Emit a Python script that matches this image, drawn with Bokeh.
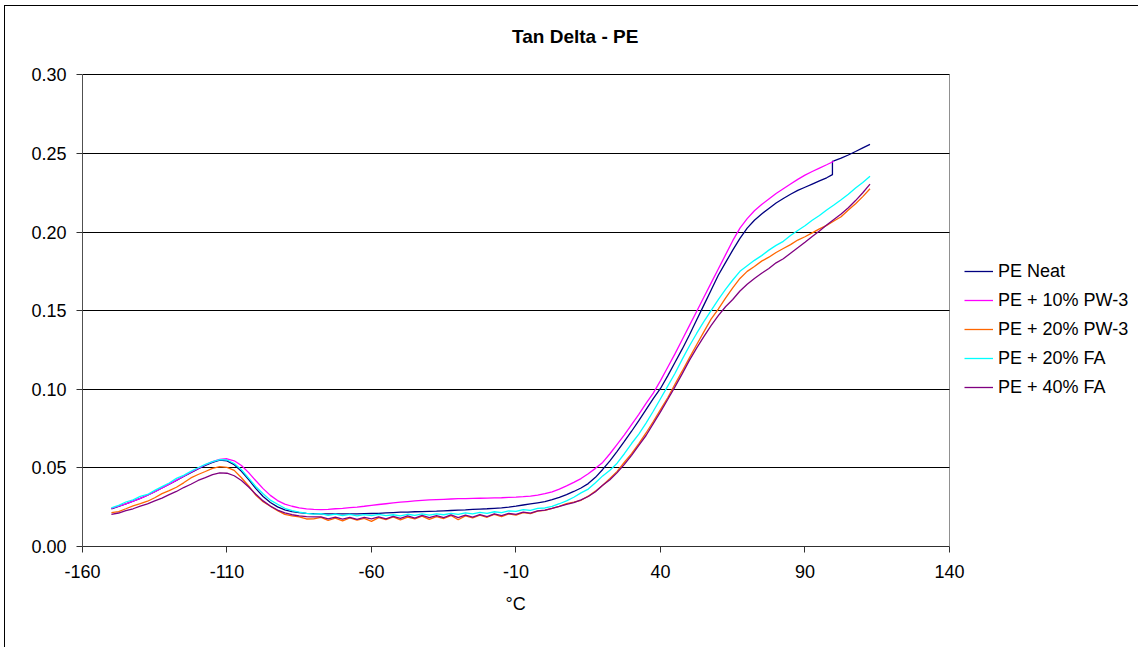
from bokeh.plotting import figure
from bokeh.models import Legend, LegendItem, FixedTicker, PrintfTickFormatter, Range1d, Title, Label
from bokeh.embed import file_html
from bokeh.resources import INLINE

# Temperature sampling grid, degrees C
TEMPS = [-150 + 2.5 * i for i in range(106)]

X_TICKS = [-160, -110, -60, -10, 40, 90, 140]
Y_TICKS = [0.0, 0.05, 0.10, 0.15, 0.20, 0.25, 0.30]
X_MIN, X_MAX = -160, 140
Y_MIN, Y_MAX = 0.0, 0.30

SERIES_NAMES = ["PE Neat", "PE + 10% PW-3", "PE + 20% PW-3", "PE + 20% FA", "PE + 40% FA"]
SERIES_COLORS = ["#000080", "#FF00FF", "#FF6600", "#00FFFF", "#800080"]

# PE Neat: the trace steps up just before 100 C
PE_NEAT_TEMPS = TEMPS[:100] + [99.5, 99.5] + TEMPS[100:]
PE_NEAT = [
    0.0240, 0.0255, 0.0271, 0.0288, 0.0306, 0.0326, 0.0348, 0.0372, 0.0396, 0.0420,
    0.0445, 0.0470, 0.0494, 0.0516, 0.0535, 0.0550, 0.0545, 0.0520, 0.0478, 0.0425,
    0.0368, 0.0318, 0.0280, 0.0252, 0.0233, 0.0222, 0.0215, 0.0211, 0.0209,
    0.0208, 0.0207, 0.0207, 0.0207, 0.0208, 0.0208, 0.0209, 0.0210, 0.0211, 0.0214,
    0.0216, 0.0218, 0.0219, 0.0221, 0.0222, 0.0224, 0.0225, 0.0227, 0.0229, 0.0231,
    0.0233, 0.0236, 0.0238, 0.0240, 0.0243, 0.0246, 0.0251, 0.0257, 0.0264, 0.0271,
    0.0278, 0.0285,
    0.0298, 0.0312, 0.0330, 0.0350, 0.0372, 0.0400, 0.0440, 0.0490, 0.0545, 0.0605,
    0.0668, 0.0733, 0.0800, 0.0870, 0.0940, 0.1005, 0.1085, 0.1170, 0.1255, 0.1345,
    0.1440, 0.1535, 0.1630, 0.1725, 0.1805, 0.1885, 0.1960, 0.2025, 0.2075, 0.2115,
    0.2150, 0.2185, 0.2213, 0.2240, 0.2265, 0.2285, 0.2305, 0.2325, 0.2345,
    0.2365, 0.2450,
    0.2453, 0.2470, 0.2490, 0.2512, 0.2535, 0.2557,
]

PE_PW3_10 = [
    0.0242, 0.0256, 0.0271, 0.0288, 0.0306, 0.0326, 0.0348, 0.0372, 0.0397, 0.0422,
    0.0447, 0.0473, 0.0497, 0.0520, 0.0540, 0.0554, 0.0558, 0.0545, 0.0515, 0.0470,
    0.0418, 0.0368, 0.0325, 0.0292, 0.0270, 0.0256, 0.0245, 0.0239, 0.0236,
    0.0235, 0.0236, 0.0240, 0.0243, 0.0247, 0.0251, 0.0256, 0.0262, 0.0267, 0.0272,
    0.0277, 0.0282, 0.0286, 0.0290, 0.0293, 0.0296, 0.0298, 0.0300, 0.0302, 0.0304,
    0.0305, 0.0306, 0.0307, 0.0308, 0.0309, 0.0310, 0.0312, 0.0314, 0.0317, 0.0321,
    0.0327, 0.0336,
    0.0348, 0.0365, 0.0386, 0.0408, 0.0432, 0.0463, 0.0497, 0.0535, 0.0590, 0.0650,
    0.0710, 0.0775, 0.0840, 0.0910, 0.0975, 0.1055, 0.1140, 0.1225, 0.1315, 0.1405,
    0.1495, 0.1585, 0.1675, 0.1765, 0.1855, 0.1945, 0.2025, 0.2085, 0.2135, 0.2175,
    0.2210, 0.2245, 0.2275, 0.2305, 0.2335, 0.2362, 0.2385, 0.2407, 0.2428, 0.2450,
]

PE_PW3_20 = [
    0.0215, 0.0222, 0.0240, 0.0259, 0.0273, 0.0288, 0.0310, 0.0336, 0.0355, 0.0377,
    0.0405, 0.0436, 0.0458, 0.0477, 0.0497, 0.0508, 0.0503, 0.0484, 0.0437, 0.0385,
    0.0326, 0.0285, 0.0256, 0.0228, 0.0204, 0.0195, 0.0188, 0.0175, 0.0176,
    0.0185, 0.0166, 0.0180, 0.0163, 0.0182, 0.0168, 0.0179, 0.0160, 0.0184, 0.0171,
    0.0188, 0.0169, 0.0187, 0.0175, 0.0193, 0.0172, 0.0190, 0.0178, 0.0197, 0.0170,
    0.0195, 0.0182, 0.0200, 0.0186, 0.0204, 0.0190, 0.0208, 0.0200, 0.0216, 0.0209,
    0.0225, 0.0230,
    0.0243, 0.0255, 0.0272, 0.0282, 0.0294, 0.0320, 0.0352, 0.0390, 0.0432, 0.0478,
    0.0536, 0.0590, 0.0655, 0.0722, 0.0795, 0.0870, 0.0946, 0.1032, 0.1115, 0.1200,
    0.1283, 0.1365, 0.1446, 0.1510, 0.1580, 0.1645, 0.1705, 0.1750, 0.1781, 0.1815,
    0.1840, 0.1870, 0.1895, 0.1920, 0.1949, 0.1970, 0.1995, 0.2020, 0.2042, 0.2070,
    0.2097, 0.2140, 0.2180, 0.2225, 0.2275,
]

PE_FA_20 = [
    0.0245, 0.0262, 0.0283, 0.0297, 0.0319, 0.0331, 0.0357, 0.0381, 0.0404, 0.0433,
    0.0452, 0.0478, 0.0501, 0.0522, 0.0540, 0.0553, 0.0550, 0.0528, 0.0488, 0.0435,
    0.0380, 0.0336, 0.0295, 0.0269, 0.0243, 0.0228, 0.0218, 0.0211, 0.0206,
    0.0209, 0.0198, 0.0206, 0.0196, 0.0204, 0.0195, 0.0203, 0.0197, 0.0204, 0.0196,
    0.0202, 0.0195, 0.0205, 0.0198, 0.0207, 0.0199, 0.0208, 0.0202, 0.0211, 0.0204,
    0.0214, 0.0207, 0.0217, 0.0210, 0.0221, 0.0215, 0.0227, 0.0223, 0.0234, 0.0230,
    0.0242, 0.0245,
    0.0255, 0.0272, 0.0290, 0.0313, 0.0341, 0.0365, 0.0405, 0.0449, 0.0485, 0.0530,
    0.0590, 0.0655, 0.0715, 0.0785, 0.0860, 0.0940, 0.1020, 0.1100, 0.1190, 0.1275,
    0.1355, 0.1430, 0.1500, 0.1570, 0.1635, 0.1695, 0.1750, 0.1785, 0.1820, 0.1850,
    0.1885, 0.1915, 0.1941, 0.1978, 0.2010, 0.2040, 0.2075, 0.2105, 0.2140, 0.2172,
    0.2205, 0.2240, 0.2280, 0.2315, 0.2355,
]

PE_FA_40 = [
    0.0205, 0.0213, 0.0228, 0.0240, 0.0257, 0.0271, 0.0290, 0.0308, 0.0330, 0.0350,
    0.0375, 0.0396, 0.0420, 0.0438, 0.0457, 0.0468, 0.0466, 0.0450, 0.0420, 0.0378,
    0.0332, 0.0290, 0.0257, 0.0232, 0.0214, 0.0202, 0.0195, 0.0190, 0.0188,
    0.0188, 0.0175, 0.0187, 0.0174, 0.0186, 0.0172, 0.0185, 0.0176, 0.0189, 0.0175,
    0.0191, 0.0179, 0.0195, 0.0180, 0.0198, 0.0183, 0.0196, 0.0184, 0.0201, 0.0183,
    0.0199, 0.0187, 0.0203, 0.0190, 0.0207, 0.0196, 0.0210, 0.0204, 0.0218, 0.0212,
    0.0226, 0.0232,
    0.0243, 0.0255, 0.0268, 0.0279, 0.0297, 0.0318, 0.0348, 0.0389, 0.0425, 0.0470,
    0.0522, 0.0580, 0.0643, 0.0706, 0.0782, 0.0856, 0.0935, 0.1015, 0.1098, 0.1184,
    0.1262, 0.1335, 0.1405, 0.1468, 0.1525, 0.1571, 0.1625, 0.1668, 0.1705, 0.1738,
    0.1768, 0.1804, 0.1830, 0.1865, 0.1900, 0.1935, 0.1972, 0.2006, 0.2045, 0.2080,
    0.2115, 0.2155, 0.2200, 0.2250, 0.2305,
]

series = [
    (PE_NEAT_TEMPS, PE_NEAT),
    (TEMPS[:len(PE_PW3_10)], PE_PW3_10),
    (TEMPS, PE_PW3_20),
    (TEMPS, PE_FA_20),
    (TEMPS, PE_FA_40),
]

FONT = "Liberation Sans"

# The frame fills the canvas to the right and top so that the title and
# legend can sit inside it; axes, grid and the plot-area border are bounded
# to the X_MIN..X_MAX / Y_MIN..Y_MAX box.
p = figure(
    width=1134, height=642, title=None,
    x_range=Range1d(X_MIN, 205.75), y_range=Range1d(Y_MIN, 0.34344),
    output_backend="svg", toolbar_location=None,
    min_border_left=77, min_border_right=0,
    min_border_top=0, min_border_bottom=102,
    background_fill_color="white", border_fill_color="white",
)
p.margin = (6, 0, 0, 5)
p.styles = {"box-shadow": "-1px -1px 0px 0px black"}

p.outline_line_color = None

# horizontal gridlines, stopping at the right edge of the plot area
p.ygrid.grid_line_color = "black"
p.ygrid.grid_line_width = 1
p.ygrid.ticker = FixedTicker(ticks=Y_TICKS)
p.ygrid.cross_bounds = (X_MIN, X_MAX)

# right-hand border of the plot area
p.xgrid.ticker = FixedTicker(ticks=[X_MAX])
p.xgrid.grid_line_color = "#909090"
p.xgrid.grid_line_width = 1
p.xgrid.cross_bounds = (Y_MIN, Y_MAX)

p.xaxis.ticker = FixedTicker(ticks=X_TICKS)
p.xaxis.formatter = PrintfTickFormatter(format="%d")
p.xaxis.bounds = (X_MIN, X_MAX)
p.yaxis.ticker = FixedTicker(ticks=Y_TICKS)
p.yaxis.formatter = PrintfTickFormatter(format="%.2f")
p.yaxis.bounds = (Y_MIN, Y_MAX)

for ax in (p.xaxis, p.yaxis):
    ax.major_label_text_font = FONT
    ax.major_label_text_font_size = "18px"
    ax.major_label_text_color = "black"
    ax.major_tick_in = 0
    ax.major_tick_out = 6
    ax.minor_tick_line_color = None
    ax.major_tick_line_color = "#303030"

p.xaxis.axis_line_color = "#303030"
p.yaxis.axis_line_color = "#505050"
p.xaxis.major_label_standoff = 12
p.yaxis.major_label_standoff = 10

# chart title, centred over the whole chart
p.add_layout(Label(
    x=492.7, y=510.2, x_units="screen", y_units="screen",
    text="Tan Delta - PE", text_align="center", text_baseline="middle",
    text_font=FONT, text_font_size="19px", text_font_style="bold",
    text_color="black",
))

# x-axis caption, centred under the bounded axis
p.add_layout(Title(
    text="°C", align="left", offset=423, standoff=22,
    text_font=FONT, text_font_size="18px", text_font_style="normal",
    text_color="black",
), "below")

items = []
for name, color, (xs, ys) in zip(SERIES_NAMES, SERIES_COLORS, series):
    r = p.line(xs, ys, line_color=color, line_width=1.3)
    items.append(LegendItem(label=name, renderers=[r]))

legend = Legend(
    items=items, location=(882, 148),
    glyph_width=29, glyph_height=22, label_height=22,
    label_standoff=5, spacing=7, padding=0, margin=0,
    border_line_color=None, background_fill_alpha=0,
    label_text_font=FONT, label_text_font_size="18px",
    label_text_color="black",
)
p.add_layout(legend)

open("out.html", "w").write(file_html(p, INLINE))
